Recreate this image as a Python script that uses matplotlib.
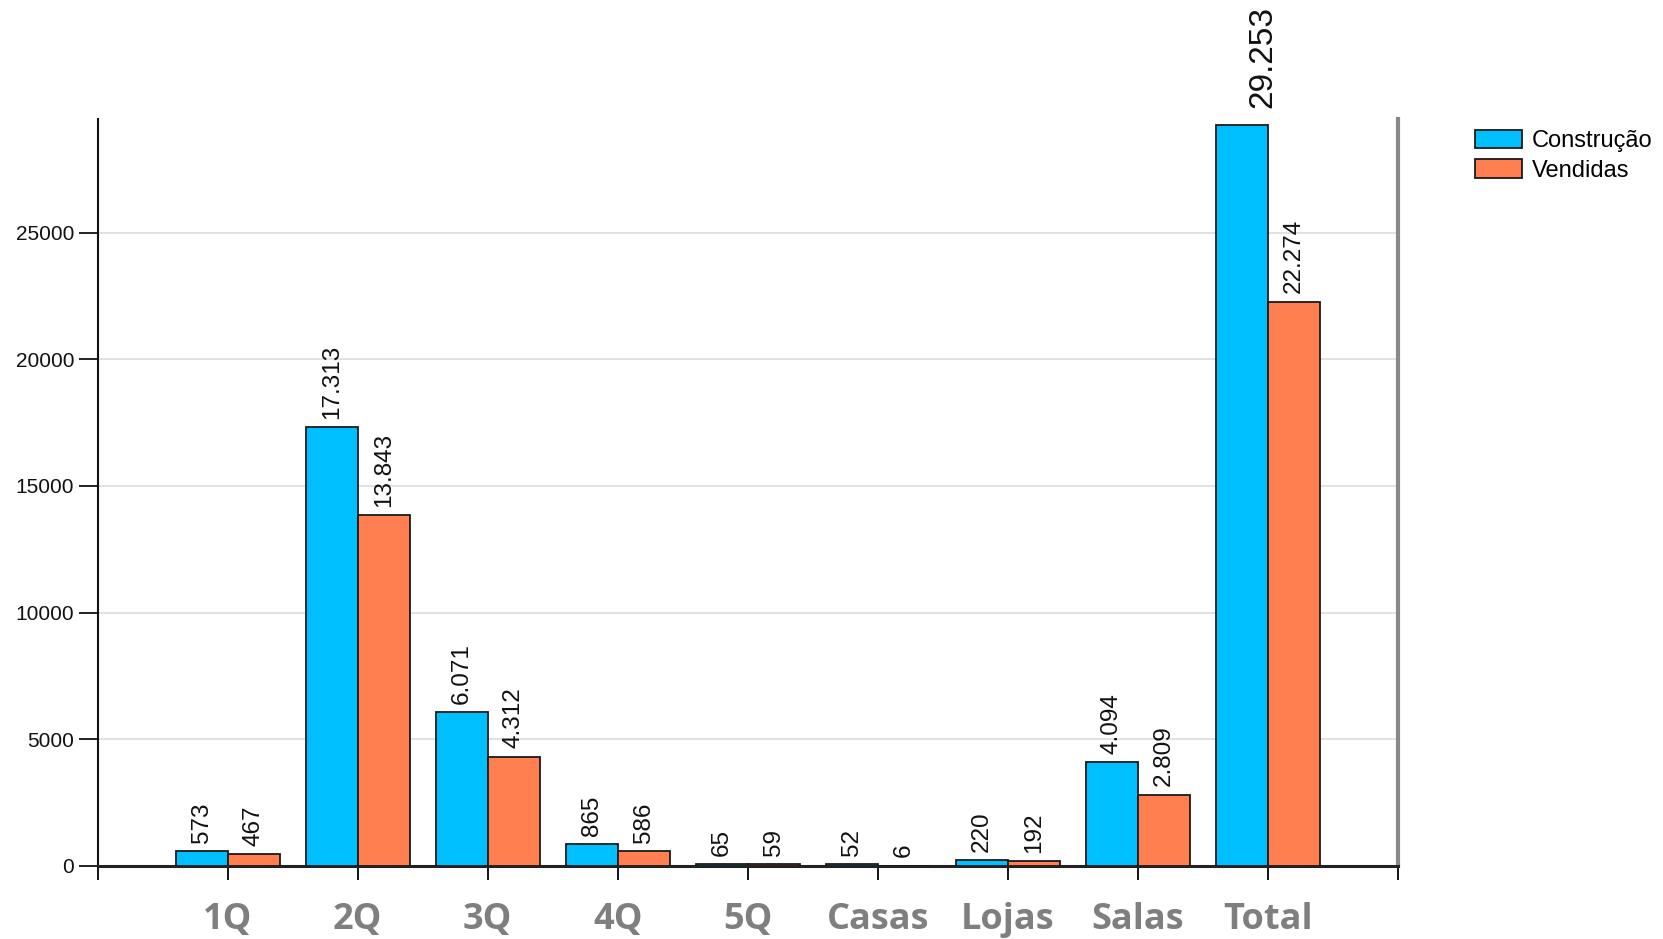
import numpy as np
import matplotlib
matplotlib.use('Agg')
import matplotlib.pyplot as plt

# dados
categorias = ['1Q', '2Q', '3Q', '4Q', '5Q', 'Casas', 'Lojas', 'Salas', 'Total']
construcao = [573, 17313, 6071, 865, 65, 52, 220, 4094, 29253]
vendidas = [467, 13843, 4312, 586, 59, 6, 192, 2809, 22274]
series = ['Construção', 'Vendidas']


def fmt(v):
    # separador de milhar com ponto
    return f'{v:,}'.replace(',', '.')


plt.rcParams['font.family'] = ['Liberation Sans', 'DejaVu Sans']

fig = plt.figure(figsize=(16.63, 9.39), dpi=100)
ax = fig.add_axes([0.0587, 0.078, 0.782, 0.7954])

x = np.arange(1, len(categorias) + 1)
w = 0.4
b1 = ax.bar(x - w / 2, construcao, w, color='#00BFFF', edgecolor='#1a1a1a', linewidth=1.3, label=series[0], zorder=3)
b2 = ax.bar(x + w / 2, vendidas, w, color='#FF7F50', edgecolor='#1a1a1a', linewidth=1.3, label=series[1], zorder=3)

# rótulos de valor (o do total é maior e fica um pouco deslocado)
for barras in (b1, b2):
    for r in barras:
        v = int(r.get_height())
        maior = v == max(construcao)
        ax.annotate(fmt(v), (r.get_x() + r.get_width() / 2, v),
                    xytext=(15, 12) if maior else (0, 6),
                    textcoords='offset points', rotation=90, ha='center', va='bottom',
                    fontsize=24 if maior else 17.5, color='#111111', zorder=4,
                    annotation_clip=False)

ax.set_xlim(0, 10)
ax.set_ylim(0, 29500)
ax.set_yticks(np.arange(0, 25001, 5000))
ax.tick_params(axis='y', labelsize=15, length=14, width=1.3, pad=3, colors='#111111')
ax.set_xticks(np.arange(0, 11))
ax.set_xticklabels([''] + categorias + [''])
ax.tick_params(axis='x', length=10, width=1.3, pad=16, labelsize=26, labelcolor='#7f7f7f')
for lbl in ax.get_xticklabels():
    lbl.set_fontfamily('Open Sans')
    lbl.set_fontweight('bold')

ax.grid(axis='y', color='#dddddd', linewidth=1.2, zorder=0)
ax.set_axisbelow(True)
# sem linha de grade no zero
ax.get_ygridlines()[0].set_visible(False)

ax.spines['top'].set_visible(False)
ax.spines['left'].set_linewidth(1.5)
ax.spines['left'].set_color('#111111')
ax.spines['bottom'].set_linewidth(2.2)
ax.spines['bottom'].set_color('#222222')
ax.spines['right'].set_linewidth(3)
ax.spines['right'].set_color('#888888')

fig.legend(handles=[b1, b2], labels=series, loc='upper left', bbox_to_anchor=(0.887, 0.862),
           frameon=False, fontsize=17, handlelength=2.0, handleheight=0.85,
           handletextpad=0.4, labelspacing=0.3, borderpad=0, borderaxespad=0)

fig.savefig('out.png', dpi=100)
